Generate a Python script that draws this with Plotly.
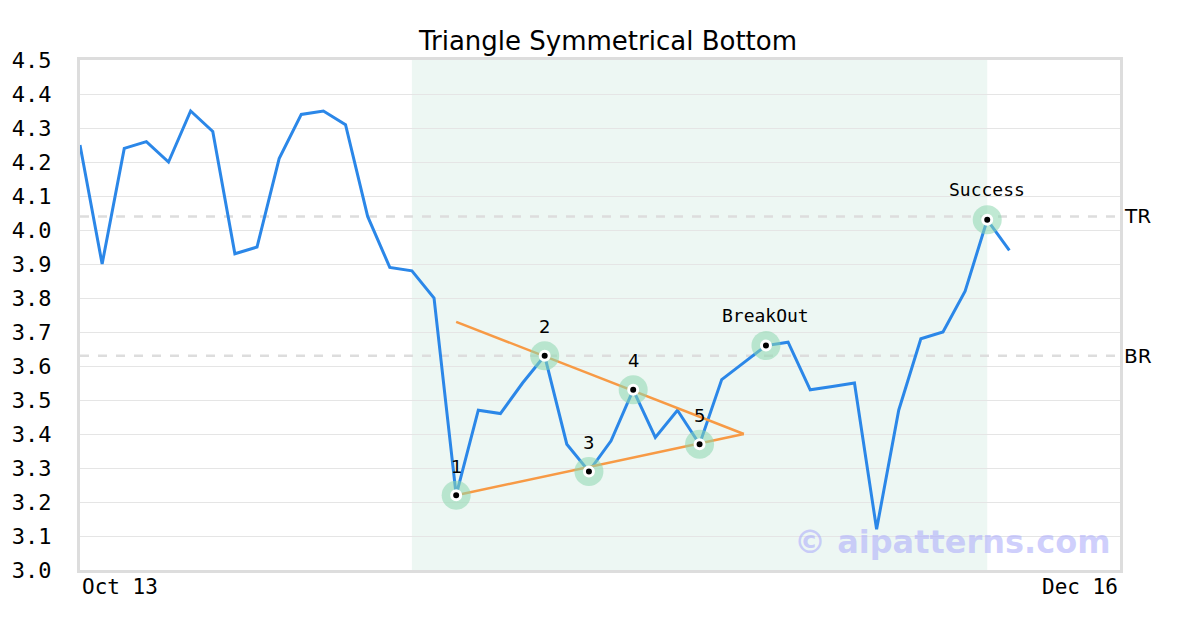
import plotly.graph_objects as go

# ---- data ----
prices = [4.25, 3.90, 4.24, 4.26, 4.20, 4.35, 4.29, 3.93, 3.95, 4.21,
          4.34, 4.35, 4.31, 4.04, 3.89, 3.88, 3.80, 3.22, 3.47, 3.46,
          3.55, 3.63, 3.37, 3.29, 3.38, 3.53, 3.39, 3.47, 3.37, 3.56,
          3.61, 3.66, 3.67, 3.53, 3.54, 3.55, 3.12, 3.47, 3.68, 3.70,
          3.82, 4.03, 3.94]
x_idx = list(range(len(prices)))

pivot_idx = [17, 21, 23, 25, 28]
pivot_labels = ["1", "2", "3", "4", "5"]
event_idx = [31, 41]
event_labels = ["BreakOut", "Success"]

upper_x = [17, 30]
upper_y = [3.73, 3.40]
lower_x = [17, 30]
lower_y = [3.22, 3.40]

shade_start, shade_end = 15, 41
tr_level, br_level = 4.04, 3.63
x_range = [0, 47]
x_tick_pos = [0, 47]
x_tick_labels = ["Oct 13", "Dec 16"]
y_ticks = [round(3.0 + 0.1 * i, 1) for i in range(16)]

MONO = "DejaVu Sans Mono"
SANS = "DejaVu Sans"

fig = go.Figure()

fig.add_shape(type="rect", xref="x", yref="paper", x0=shade_start, x1=shade_end,
              y0=0, y1=1, fillcolor="rgba(215,238,228,0.45)", line_width=0, layer="below")
for lvl in (tr_level, br_level):
    fig.add_shape(type="line", xref="paper", yref="y", x0=0, x1=1, y0=lvl, y1=lvl,
                  line=dict(color="#dddddd", width=2.5, dash="dash"), layer="below")

fig.add_trace(go.Scatter(x=x_idx, y=prices, mode="lines",
                         line=dict(color="#2b87e8", width=3), hoverinfo="skip"))
fig.add_trace(go.Scatter(x=upper_x, y=upper_y, mode="lines",
                         line=dict(color="#f79a45", width=2.5), hoverinfo="skip"))
fig.add_trace(go.Scatter(x=lower_x, y=lower_y, mode="lines",
                         line=dict(color="#f79a45", width=2.5), hoverinfo="skip"))

mk_idx = pivot_idx + event_idx
mk_y = [prices[i] for i in mk_idx]
fig.add_trace(go.Scatter(x=mk_idx, y=mk_y, mode="markers",
                         marker=dict(size=29, color="rgba(140,215,175,0.55)"),
                         hoverinfo="skip"))
fig.add_trace(go.Scatter(x=mk_idx, y=mk_y, mode="markers",
                         marker=dict(size=9, color="black", line=dict(color="white", width=3)),
                         hoverinfo="skip"))

for i, lab in zip(pivot_idx, pivot_labels):
    fig.add_annotation(x=i, y=prices[i], text=lab, showarrow=False, yshift=29,
                       font=dict(family=SANS, size=18, color="black"))
for i, lab in zip(event_idx, event_labels):
    fig.add_annotation(x=i, y=prices[i], text=lab, showarrow=False, yshift=30,
                       font=dict(family=MONO, size=18, color="black"))

fig.add_annotation(xref="paper", x=1.0, y=tr_level, text="TR", showarrow=False,
                   xanchor="left", xshift=2, font=dict(family=SANS, size=20, color="black"))
fig.add_annotation(xref="paper", x=1.0, y=br_level, text="BR", showarrow=False,
                   xanchor="left", xshift=2, font=dict(family=SANS, size=20, color="black"))

for pos, lab, anc in zip(x_tick_pos, x_tick_labels, ["left", "right"]):
    fig.add_annotation(x=pos, yref="paper", y=0, text=lab, showarrow=False,
                       xanchor=anc, yanchor="top", yshift=-3,
                       font=dict(family=MONO, size=21, color="black"))

fig.add_annotation(xref="paper", yref="paper", x=0.993, y=0.055, text="© aipatterns.com",
                   showarrow=False, xanchor="right", yanchor="middle",
                   font=dict(family=SANS, size=32, color="rgba(175,175,250,0.6)", weight="bold"))

fig.update_layout(
    width=1200, height=630,
    margin=dict(l=72, r=88, t=52, b=68, autoexpand=False),
    paper_bgcolor="white", plot_bgcolor="white",
    showlegend=False,
    title=dict(text="Triangle Symmetrical Bottom", x=0.5, xanchor="center",
               y=0.948, yanchor="middle",
               font=dict(family=SANS, size=26, color="black")),
    xaxis=dict(range=x_range, showgrid=False, zeroline=False, showticklabels=False,
               showline=True, mirror=True, linecolor="#dddddd", linewidth=3,
               fixedrange=True, automargin=False),
    yaxis=dict(range=[3.0, 4.5], tickvals=y_ticks, ticktext=[f"{v:.1f}" for v in y_ticks],
               showgrid=True, gridcolor="#e5e5e5", gridwidth=1, zeroline=False,
               showline=True, mirror=True, linecolor="#dddddd", linewidth=3,
               ticklabelstandoff=21, automargin=False,
               tickfont=dict(family=MONO, size=22, color="black")),
)

fig.write_html("out.html")
